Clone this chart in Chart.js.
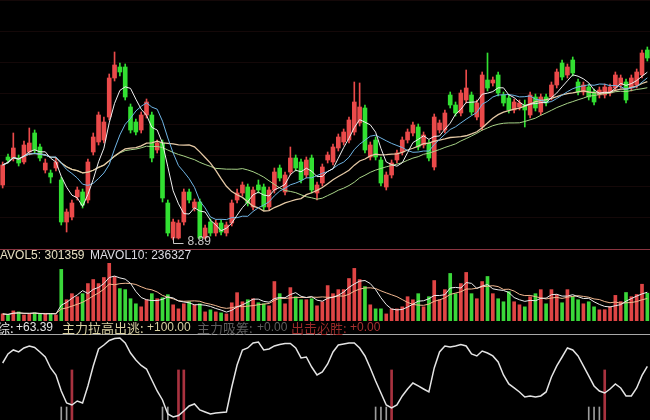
<!DOCTYPE html>
<html>
<head>
<meta charset="utf-8">
<script src="https://cdn.jsdelivr.net/npm/chart.js@4.4.1/dist/chart.umd.min.js"></script>
<style>
  html, body { margin: 0; padding: 0; background: #000; width: 650px; height: 420px; overflow: hidden; }
  canvas { position: absolute; left: 0; display: block; }
  .rule { position: absolute; left: 0; width: 650px; }
  .lbl { position: absolute; white-space: pre; font-family: "Liberation Sans", Arial, sans-serif; font-size: 12px; }
  .cjk { font-family: "Noto Sans CJK SC", sans-serif; font-size: 13px; }
  #volRow .lbl { top: 248px; line-height: 14px; }
  #oscRow .lbl { top: 320px; line-height: 15px; }
</style>
</head>
<body>
<canvas id="kline" width="650" height="248" style="top:0"></canvas>
<div class="rule" style="top:249px;height:1px;background:#8a3440"></div>
<canvas id="vol" width="650" height="63" style="top:258px"></canvas>
<div class="rule" style="top:334px;height:1px;background:#a8a8a8"></div>
<canvas id="osc" width="650" height="84" style="top:336px"></canvas>

<div id="volRow">
  <span class="lbl" id="mv5" style="left:-10px;color:#e6dfc0"></span>
  <span class="lbl" id="mv10" style="left:90px;color:#dcdce4"></span>
</div>
<div id="oscRow">
  <span class="lbl cjk" style="left:-3px;color:#e4e4e4">综:</span>
  <span class="lbl" id="oscVal" style="left:16px;color:#e4e4e4"></span>
  <span class="lbl cjk" style="left:62px;color:#d9d1a2">主力拉高出逃:</span>
  <span class="lbl" style="left:147px;color:#d9d1a2">+100.00</span>
  <span class="lbl cjk" style="left:197px;color:#5e5e5e">主力吸筹:</span>
  <span class="lbl" style="left:257px;color:#5e5e5e">+0.00</span>
  <span class="lbl cjk" style="left:291px;color:#9a2a2a">出击必胜:</span>
  <span class="lbl" style="left:350px;color:#a83030">+0.00</span>
</div>

<script>
// Daily candles: open / high / low / close
const OPEN = [9.99,10.55,10.53,10.53,10.45,10.65,11.03,10.75,10.29,10.23,10.33,10.09,9.25,9.35,9.75,9.85,9.69,10.65,10.85,10.89,
  11.35,12.13,12.35,12.35,11.55,11.25,11.09,11.39,11.39,10.69,10.83,9.63,8.93,8.93,9.25,9.85,9.53,9.65,8.93,9.25,
  9.03,9.23,9.03,9.23,9.69,9.83,9.95,9.55,9.99,9.95,9.55,9.89,10.33,9.85,10.25,10.53,10.45,10.19,10.53,9.83,
  10.03,10.49,10.45,10.73,10.85,10.89,11.05,11.23,11.53,10.55,10.89,10.49,9.95,10.19,10.49,10.65,10.89,11.03,11.15,10.79,
  10.83,10.35,11.09,11.09,11.79,11.59,11.43,11.69,11.79,11.35,11.15,12.09,12.03,12.19,11.79,11.73,11.49,11.55,11.59,11.39,
  11.75,11.45,11.75,11.75,11.99,12.43,12.19,12.49,12.05,11.85,11.95,11.85,11.79,11.79,11.83,11.93,11.99,12.05,11.93,11.99,
  12.19,12.69];
const HIGH = [10.45,10.61,11.03,10.59,10.87,11.13,11.09,10.81,10.51,10.29,10.53,10.15,9.51,9.69,9.95,9.91,10.51,11.03,11.45,11.35,
  12.21,12.65,12.43,12.41,11.61,11.31,11.45,11.71,11.45,10.89,10.89,9.69,9.31,9.29,9.91,9.91,9.71,9.71,9.19,9.31,
  9.29,9.29,9.25,9.69,9.91,10.05,10.01,9.95,10.09,10.01,9.95,10.33,10.39,10.25,10.75,10.59,10.51,10.55,10.59,10.05,
  10.41,10.65,10.81,11.01,11.11,11.35,12.05,12.03,11.59,10.85,10.95,10.55,10.25,10.49,10.69,10.95,11.11,11.25,11.21,11.05,
  10.89,11.41,11.29,11.49,11.85,11.65,11.89,12.29,11.85,11.69,12.25,12.63,12.15,12.25,11.85,11.79,11.71,11.69,11.69,11.85,
  11.81,11.81,11.81,12.05,12.31,12.49,12.41,12.55,12.11,12.05,12.01,11.91,11.95,12.01,12.01,12.25,12.19,12.11,12.19,12.31,
  12.69,12.75];
const LOW = [9.93,10.43,10.47,10.37,10.41,10.59,10.63,10.47,10.23,10.03,10.27,9.19,9.05,9.29,9.69,9.53,9.63,10.59,10.79,10.83,
  11.29,12.07,12.17,11.69,11.03,10.99,11.03,11.33,10.45,10.63,9.65,8.97,8.89,8.91,9.19,9.63,9.47,8.91,8.91,8.97,
  8.97,8.99,8.97,9.17,9.63,9.77,9.57,9.49,9.83,9.49,9.49,9.83,10.07,9.79,10.19,10.27,10.03,10.13,9.83,9.69,
  9.97,10.43,10.39,10.67,10.79,10.83,10.99,11.17,10.63,10.49,10.49,9.97,9.89,10.13,10.43,10.59,10.83,10.97,10.69,10.73,
  10.47,10.29,11.03,11.03,11.53,11.37,11.37,11.63,11.39,11.29,11.09,11.87,11.97,11.77,11.57,11.43,11.43,11.49,11.15,11.33,
  11.47,11.39,11.57,11.69,11.93,12.09,12.13,12.17,11.79,11.79,11.69,11.59,11.73,11.73,11.77,11.87,11.93,11.63,11.87,11.93,
  12.13,12.47];
const CLOSE = [10.39,10.49,10.73,10.43,10.79,10.83,10.69,10.53,10.43,10.15,10.45,9.25,9.45,9.63,9.89,9.59,10.45,10.95,11.39,11.25,
  12.13,12.39,12.25,11.75,11.09,11.05,11.39,11.65,10.53,10.83,9.73,9.03,9.25,9.23,9.85,9.69,9.65,8.93,9.13,9.03,
  9.23,9.05,9.19,9.63,9.83,9.99,9.63,9.89,9.89,9.55,9.89,10.25,10.13,10.19,10.53,10.33,10.09,10.49,9.89,9.99,
  10.35,10.59,10.75,10.95,11.05,11.29,11.65,11.55,10.69,10.79,10.55,10.03,10.19,10.43,10.63,10.89,11.05,11.19,10.75,10.99,
  10.53,11.35,11.23,11.43,11.59,11.43,11.83,11.93,11.45,11.63,12.19,11.93,12.09,11.83,11.63,11.49,11.65,11.63,11.49,11.79,
  11.53,11.75,11.63,11.99,12.25,12.15,12.35,12.23,11.85,11.99,11.75,11.65,11.89,11.95,11.95,12.19,12.13,11.69,12.13,12.25,
  12.63,12.53];

// Daily volume
const VOLUME = [74200,63600,106000,95400,63600,74200,84800,74200,74200,74200,63600,540600,222600,286200,254400,286200,392200,434600,392200,455800,
  604200,466400,339200,328600,233200,180200,148400,222600,286200,233200,243800,275600,169600,127200,180200,201400,169600,180200,95400,116600,
  95400,84800,74200,190800,296800,201400,222600,233200,190800,180200,159000,413400,286200,180200,349800,254400,222600,222600,233200,159000,
  201400,371000,286200,328600,328600,445200,551200,434600,360400,169600,127200,127200,74200,127200,127200,148400,254400,222600,286200,148400,
  254400,424000,222600,328600,498200,286200,392200,508800,286200,233200,413400,466400,286200,233200,201400,307400,201400,169600,148400,254400,
  286200,328600,180200,328600,275600,190800,328600,254400,222600,180200,201400,148400,116800,118200,149700,268400,203375,298500,254300,277600,
  385200,291195];

// Main-force oscillator (综)
const OSC = [67.5,78.8,83.8,81.3,86.3,88.8,86.9,81.3,75.0,61.3,52.5,32.5,17.5,15.0,20.0,17.5,38.8,63.8,85.0,90.0,
  95.6,98.1,98.8,92.5,80.0,71.3,64.4,60.0,46.3,32.5,21.3,3.8,0.0,1.9,7.5,13.8,16.3,8.8,6.3,3.8,
  5.0,5.6,6.3,37.5,65.0,83.8,86.3,92.5,93.8,83.8,85.0,88.8,90.6,91.9,91.9,86.3,73.8,75.0,62.5,52.5,
  56.3,66.3,81.3,90.0,91.3,92.5,92.5,86.3,76.3,61.3,45.0,30.0,15.0,11.3,15.0,26.3,35.0,42.5,38.8,35.0,
  31.3,61.3,81.3,88.8,87.5,88.8,90.6,88.8,78.8,76.3,82.5,80.0,76.3,68.8,52.5,41.3,36.3,31.3,25.0,26.3,
  25.0,26.3,31.3,50.0,63.8,75.0,86.3,83.8,76.3,63.8,51.3,38.8,32.5,30.0,35.0,41.3,36.3,26.3,26.3,36.3,
  52.0,63.39];

// Signal days in the oscillator pane
const ALERT_DAYS = [13, 33, 34, 73, 113];
const ALERT_LEVEL = 58.8;
const MARK_DAYS = [11, 12, 30, 31, 70, 71, 72, 110, 111, 112];
const MARK_LEVEL = 12.5;

const SESSIONS = OPEN.map((_, i) => 'D' + (i + 1));

const RED = '#ea4a4a';
const GREEN = '#32e032';
const VOL_RED = '#e04545';
const VOL_GREEN = '#3ad83a';

function movingAverage(values, n) {
  return values.map((_, i) => {
    const from = Math.max(0, i - n + 1);
    let s = 0;
    for (let k = from; k <= i; k++) s += values[k];
    return s / (i - from + 1);
  });
}

const rising = CLOSE.map((c, i) => c >= OPEN[i]);

// faint horizontal guide lines following the y scale ticks
const guideLines = {
  id: 'guideLines',
  beforeDatasetsDraw(chart, args, opts) {
    const { ctx, chartArea, scales } = chart;
    ctx.save();
    ctx.strokeStyle = opts.color;
    ctx.lineWidth = 1;
    scales.y.ticks.forEach(t => {
      const y = Math.round(scales.y.getPixelForValue(t.value)) + 0.5;
      ctx.beginPath();
      ctx.moveTo(chartArea.left, y);
      ctx.lineTo(chartArea.right, y);
      ctx.stroke();
    });
    ctx.restore();
  }
};

// annotation for the period's lowest low
const lowMarker = {
  id: 'lowMarker',
  afterDatasetsDraw(chart) {
    const minLow = Math.min(...LOW);
    const i = LOW.indexOf(minLow);
    const x = Math.round(chart.scales.x.getPixelForValue(i)) + 0.5;
    const y = Math.round(chart.scales.y.getPixelForValue(minLow));
    const ctx = chart.ctx;
    ctx.save();
    ctx.strokeStyle = '#c8c8c8';
    ctx.lineWidth = 1;
    ctx.beginPath();
    ctx.moveTo(x, y - 3);
    ctx.lineTo(x, y + 3.5);
    ctx.lineTo(x + 10, y + 3.5);
    ctx.stroke();
    ctx.fillStyle = '#c8c8c8';
    ctx.font = '12px "Liberation Sans", Arial, sans-serif';
    ctx.textBaseline = 'middle';
    ctx.fillText(minLow.toFixed(2), x + 14, y + 2);
    ctx.restore();
  }
};

function baseOptions(yMin, yMax, step) {
  return {
    responsive: false,
    animation: false,
    events: [],
    layout: { padding: 0 },
    plugins: { legend: { display: false }, tooltip: { enabled: false }, guideLines: { color: '#140808' } },
    scales: {
      x: { type: 'category', offset: true, display: false, grid: { display: false } },
      y: { min: yMin, max: yMax, display: false, ticks: { stepSize: step } }
    }
  };
}

const line = (data, color, width) => ({
  type: 'line', data, borderColor: color, borderWidth: width || 1,
  pointRadius: 0, tension: 0, fill: false, order: 0
});

// price pane
new Chart(document.getElementById('kline'), {
  type: 'bar',
  data: {
    labels: SESSIONS,
    datasets: [
      line(movingAverage(CLOSE, 5), '#f0f0f0'),
      line(movingAverage(CLOSE, 10), '#6fb4e4'),
      line(movingAverage(CLOSE, 20), '#e6caa6', 1.3),
      line(movingAverage(CLOSE, 30), '#a8d488'),
      {
        data: OPEN.map((o, i) => [o, CLOSE[i]]),
        backgroundColor: rising.map(r => r ? RED : GREEN),
        barThickness: 4, grouped: false, minBarLength: 1, borderWidth: 0, order: 1
      },
      {
        data: LOW.map((l, i) => [l, HIGH[i]]),
        backgroundColor: rising.map(r => r ? RED : GREEN),
        barThickness: 1, grouped: false, borderWidth: 0, order: 2
      }
    ]
  },
  options: baseOptions(8.73, 13.69, 0.31),
  plugins: [guideLines, lowMarker]
});

// volume pane
const mavol5 = movingAverage(VOLUME, 5);
const mavol10 = movingAverage(VOLUME, 10);
new Chart(document.getElementById('vol'), {
  type: 'bar',
  data: {
    labels: SESSIONS,
    datasets: [
      line(mavol5, '#ececec'),
      line(mavol10, '#f2b890'),
      {
        data: VOLUME,
        backgroundColor: rising.map(r => r ? VOL_RED : VOL_GREEN),
        barThickness: 3, grouped: false, borderWidth: 0, order: 1
      }
    ]
  },
  options: baseOptions(0, 660000, 110000),
  plugins: []
});
document.getElementById('mv5').textContent = 'MAVOL5: ' + Math.round(mavol5[mavol5.length - 1]);
document.getElementById('mv10').textContent = 'MAVOL10: ' + Math.round(mavol10[mavol10.length - 1]);

// oscillator pane
const OSC_MIN = -3.75;
new Chart(document.getElementById('osc'), {
  type: 'bar',
  data: {
    labels: SESSIONS,
    datasets: [
      line(OSC, '#e4e4e4', 1.5),
      {
        data: SESSIONS.map((_, i) => ALERT_DAYS.includes(i) ? [OSC_MIN, ALERT_LEVEL] : null),
        backgroundColor: '#a8323f', barThickness: 2, grouped: false, borderWidth: 0, order: 1
      },
      {
        data: SESSIONS.map((_, i) => MARK_DAYS.includes(i) ? [OSC_MIN, MARK_LEVEL] : null),
        backgroundColor: '#9c9c9c', barThickness: 1, grouped: false, borderWidth: 0, order: 2
      }
    ]
  },
  options: baseOptions(OSC_MIN, 101.25, 25),
  plugins: []
});
document.getElementById('oscVal').textContent = '+' + OSC[OSC.length - 1].toFixed(2);
</script>
</body>
</html>
